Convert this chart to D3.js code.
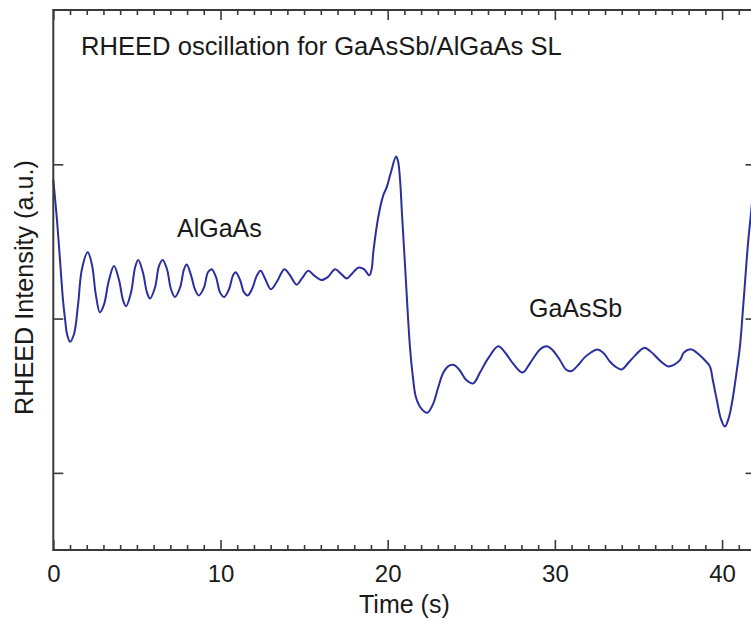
<!DOCTYPE html>
<html>
<head>
<meta charset="utf-8">
<script src="https://cdn.jsdelivr.net/npm/d3@7"></script>
<style>
  html, body { margin: 0; padding: 0; background: #fff; }
  svg { display: block; font-family: "Liberation Sans", Arial, Helvetica, sans-serif; }
</style>
</head>
<body>
<svg id="chart" width="751" height="621"></svg>
<script>
// ---- data ----
const timeS = [0, 0.22, 0.40, 0.58, 0.70, 0.82, 1.00, 1.24, 1.48, 1.71, 2.06, 2.31, 2.55, 2.79, 3.03, 3.33, 3.63, 3.93, 4.17, 4.35, 4.65, 4.89, 5.08, 5.36, 5.60, 5.78, 6.08, 6.32, 6.54, 6.80, 7.04, 7.28, 7.58, 7.82, 7.98, 8.24, 8.47, 8.71, 9.01, 9.25, 9.47, 9.73, 9.97, 10.21, 10.51, 10.75, 10.91, 11.17, 11.41, 11.63, 11.88, 12.18, 12.40, 12.66, 13.02, 13.38, 13.82, 14.16, 14.56, 14.87, 15.25, 15.59, 16.05, 16.43, 16.85, 17.21, 17.55, 17.86, 18.24, 18.58, 18.90, 19.04, 19.14, 19.44, 19.74, 19.94, 20.20, 20.50, 20.62, 20.74, 20.86, 21.03, 21.33, 21.51, 21.69, 21.99, 22.37, 22.73, 23.01, 23.33, 23.61, 23.92, 24.27, 24.72, 25.12, 25.52, 26.00, 26.61, 27.02, 27.49, 28.07, 28.51, 29.11, 29.51, 29.83, 30.31, 30.66, 31.00, 31.32, 31.80, 32.16, 32.54, 32.88, 33.30, 33.60, 34.00, 34.37, 34.79, 35.33, 35.69, 36.17, 36.47, 36.78, 37.12, 37.48, 37.72, 38.18, 38.68, 38.97, 39.27, 39.45, 39.69, 39.93, 40.17, 40.41, 40.65, 40.89, 41.07, 41.25, 41.43, 41.57, 41.71, 41.95];
const intensity = [2.90, 2.64, 2.38, 2.12, 2.00, 1.90, 1.85, 1.90, 2.09, 2.32, 2.43, 2.35, 2.15, 2.04, 2.09, 2.25, 2.34, 2.25, 2.12, 2.08, 2.17, 2.33, 2.38, 2.30, 2.17, 2.13, 2.20, 2.34, 2.38, 2.32, 2.19, 2.14, 2.20, 2.32, 2.35, 2.28, 2.19, 2.15, 2.20, 2.30, 2.32, 2.27, 2.17, 2.14, 2.19, 2.28, 2.30, 2.25, 2.17, 2.15, 2.19, 2.28, 2.31, 2.26, 2.19, 2.24, 2.32, 2.28, 2.22, 2.26, 2.31, 2.28, 2.25, 2.27, 2.32, 2.29, 2.26, 2.29, 2.33, 2.32, 2.28, 2.32, 2.43, 2.66, 2.80, 2.85, 2.95, 3.05, 3.02, 2.90, 2.67, 2.36, 1.82, 1.62, 1.49, 1.42, 1.39, 1.45, 1.55, 1.65, 1.69, 1.70, 1.67, 1.60, 1.58, 1.65, 1.74, 1.82, 1.78, 1.71, 1.65, 1.71, 1.80, 1.82, 1.80, 1.73, 1.67, 1.66, 1.69, 1.75, 1.78, 1.80, 1.78, 1.72, 1.69, 1.67, 1.71, 1.76, 1.81, 1.79, 1.74, 1.71, 1.69, 1.70, 1.73, 1.78, 1.80, 1.76, 1.73, 1.69, 1.60, 1.47, 1.35, 1.30, 1.36, 1.49, 1.67, 1.82, 2.06, 2.32, 2.51, 2.66, 2.93];

const xTicks = [0, 10, 20, 30, 40];
const xMinorTicks = d3.range(0, 43, 1);
const yTicks = [1, 2, 3];

const titleText = "RHEED oscillation for GaAsSb/AlGaAs SL";
const xLabel = "Time (s)";
const yLabel = "RHEED Intensity (a.u.)";
const annotations = [
  { text: "AlGaAs", t: 7.4, v: 2.53 },
  { text: "GaAsSb", t: 28.45, v: 2.01 }
];

(function draw() {
  const svg = d3.select("#chart");
  const mLeft = 53.3, mTop = 10, mRight = 755.5, mBottom = 550;
  const x = d3.scaleLinear().domain([0, 42]).range([mLeft, mRight]);
  const y = d3.scaleLinear().domain([0.5, 4.0]).range([mBottom, mTop]);

  const frameColor = "#3a3a3a";
  const textColor = "#1a1a1a";

  const pts = d3.zip(timeS, intensity);
  const line = d3.line().x(d => x(d[0])).y(d => y(d[1])).curve(d3.curveCatmullRom.alpha(0.5));
  svg.append("path")
    .datum(pts)
    .attr("d", line)
    .attr("fill", "none")
    .attr("stroke", "#2b2f9e")
    .attr("stroke-width", 2);

  function styleAxis(g) {
    g.select(".domain").remove();
    g.selectAll(".tick line").attr("stroke", frameColor).attr("stroke-width", 1.6);
    g.selectAll(".tick text").attr("fill", textColor).style("font-size", "24px")
      .style("font-family", '"Liberation Sans", Arial, sans-serif');
  }

  const minor = xMinorTicks.filter(d => d % 10 !== 0);

  svg.append("g").attr("transform", `translate(0,${mBottom})`)
    .call(d3.axisBottom(x).tickValues(xTicks).tickSizeInner(-10).tickSizeOuter(0).tickPadding(15).tickFormat(d3.format("d")))
    .call(styleAxis);
  svg.append("g").attr("transform", `translate(0,${mBottom})`)
    .call(d3.axisBottom(x).tickValues(minor).tickSizeInner(-5).tickSizeOuter(0).tickFormat(""))
    .call(styleAxis);
  svg.append("g").attr("transform", `translate(0,${mTop})`)
    .call(d3.axisTop(x).tickValues(xTicks).tickSizeInner(-10).tickSizeOuter(0).tickFormat(""))
    .call(styleAxis);
  svg.append("g").attr("transform", `translate(0,${mTop})`)
    .call(d3.axisTop(x).tickValues(minor).tickSizeInner(-5).tickSizeOuter(0).tickFormat(""))
    .call(styleAxis);
  svg.append("g").attr("transform", `translate(${mLeft},0)`)
    .call(d3.axisLeft(y).tickValues(yTicks).tickSizeInner(-10).tickSizeOuter(0).tickFormat(""))
    .call(styleAxis);
  svg.append("g").attr("transform", `translate(${mRight},0)`)
    .call(d3.axisRight(y).tickValues(yTicks).tickSizeInner(-10).tickSizeOuter(0).tickFormat(""))
    .call(styleAxis);

  svg.append("rect")
    .attr("x", mLeft).attr("y", mTop)
    .attr("width", mRight - mLeft).attr("height", mBottom - mTop)
    .attr("fill", "none").attr("stroke", frameColor).attr("stroke-width", 2);

  svg.append("text").attr("x", 81).attr("y", 55)
    .attr("fill", textColor).style("font-size", "25.6px").text(titleText);

  annotations.forEach(a => {
    svg.append("text").attr("x", x(a.t)).attr("y", y(a.v))
      .attr("fill", textColor).style("font-size", "25px").text(a.text);
  });

  svg.append("text").attr("x", (mLeft + mRight) / 2).attr("y", 613)
    .attr("text-anchor", "middle").attr("fill", textColor).style("font-size", "25px").text(xLabel);

  svg.append("text").attr("transform", `translate(33,287.5) rotate(-90)`)
    .attr("text-anchor", "middle").attr("fill", textColor).style("font-size", "25.2px").text(yLabel);
})();
</script>
</body>
</html>
